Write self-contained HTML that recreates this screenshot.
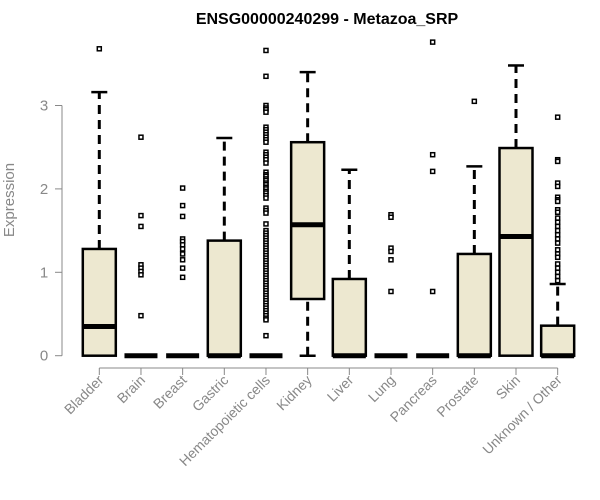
<!DOCTYPE html>
<html><head><meta charset="utf-8"><style>body{margin:0;background:#fff}svg{display:block}</style></head>
<body>
<svg id="chart" width="600" height="500" xmlns="http://www.w3.org/2000/svg" font-family="Liberation Sans, Arial, sans-serif">
<text x="327" y="24" text-anchor="middle" font-weight="bold" font-size="16">ENSG00000240299 - Metazoa_SRP</text>
<text transform="translate(14,200) rotate(-90)" text-anchor="middle" font-size="15" fill="#888">Expression</text>
<g id="axes"></g>
<g id="boxes"></g>
</svg>
<script>
const categories=["Bladder","Brain","Breast","Gastric","Hematopoietic cells","Kidney","Liver","Lung","Pancreas","Prostate","Skin","Unknown / Other"];
const q1=[0,0,0,0,0,0.68,0,0,0,0,0,0];
const medians=[0.35,0,0,0,0,1.57,0,0,0,0,1.43,0];
const q3=[1.28,0,0,1.38,0,2.56,0.92,0,0,1.22,2.49,0.36];
const whiskLo=[0,0,0,0,0,0,0,0,0,0,0,0];
const whiskHi=[3.16,0,0,2.61,0,3.40,2.23,0,0,2.27,3.48,0.86];
const outliers=[
[3.68],
[2.62,1.68,1.55,1.09,1.05,1.01,0.97,0.48],
[2.01,1.80,1.67,1.40,1.37,1.33,1.28,1.22,1.15,1.05,0.94],
[],
[3.66,3.35,3.0,2.97,2.95,2.92,2.74,2.71,2.68,2.65,2.62,2.59,2.56,2.44,2.41,2.38,2.35,2.31,2.2,2.17,2.15,2.12,2.1,2.07,2.05,2.02,2.0,1.97,1.95,1.92,1.89,1.77,1.74,1.71,1.58,1.5,1.47,1.44,1.41,1.38,1.35,1.32,1.29,1.26,1.23,1.2,1.17,1.14,1.11,1.08,1.05,1.02,0.99,0.96,0.93,0.9,0.87,0.84,0.81,0.78,0.75,0.72,0.69,0.66,0.63,0.6,0.57,0.54,0.51,0.48,0.45,0.43,0.24],
[],
[],
[1.69,1.66,1.29,1.25,1.15,0.77],
[3.76,2.41,2.21,0.77],
[3.05],
[],
[2.86,2.35,2.33,2.07,2.03,1.9,1.87,1.85,1.75,1.72,1.65,1.6,1.55,1.5,1.45,1.4,1.35,1.27,1.22,1.18,1.1,1.05,1.0,0.95,0.9]
];
const yTicks=[0,1,2,3];
const NS="http://www.w3.org/2000/svg";
const y=v=>355.7-v*83.4;
const x=i=>99.3+i*41.67;
function mk(tag,attrs,parent){const e=document.createElementNS(NS,tag);for(const k in attrs)e.setAttribute(k,attrs[k]);parent.appendChild(e);return e;}
const ax=document.getElementById('axes'),bx=document.getElementById('boxes');
let l=mk('line',{x1:62,x2:62,y1:y(0),y2:y(3),stroke:'#888','stroke-width':1},ax);


yTicks.forEach(t=>{
 let tk=mk('line',{x1:55,x2:62,y1:y(t),y2:y(t),stroke:'#888'},ax);
 
 
 let tx=mk('text',{x:44,y:y(t)+5,'text-anchor':'middle','font-size':15,fill:'#888'},ax);
 tx.textContent=t;
 
 
});
l=mk('line',{x1:x(0),x2:x(categories.length-1),y1:368,y2:368,stroke:'#888'},ax);


categories.forEach((c,i)=>{
 let tk=mk('line',{x1:x(i),x2:x(i),y1:368,y2:375,stroke:'#888'},ax);
 
 
 let tx=mk('text',{transform:`translate(${x(i)+5},381) rotate(-45)`,'text-anchor':'end','font-size':14,fill:'#888'},ax);
 tx.textContent=c;
 
 
 const g=mk('g',{},bx);
 
 
 const cx=x(i),hw=16.5;
 if(whiskHi[i]>q3[i]){
  mk('line',{x1:cx,x2:cx,y1:y(q3[i]),y2:y(whiskHi[i]),stroke:'#000','stroke-width':3,'stroke-dasharray':'9,6'},g);
  mk('line',{x1:cx-8,x2:cx+8,y1:y(whiskHi[i]),y2:y(whiskHi[i]),stroke:'#000','stroke-width':2.5},g);
 }
 if(q1[i]>whiskLo[i]){
  mk('line',{x1:cx,x2:cx,y1:y(whiskLo[i]),y2:y(q1[i]),stroke:'#000','stroke-width':3,'stroke-dasharray':'9,6'},g);
  mk('line',{x1:cx-8,x2:cx+8,y1:y(whiskLo[i]),y2:y(whiskLo[i]),stroke:'#000','stroke-width':2.5},g);
 }
 if(q3[i]>q1[i]) mk('rect',{x:cx-hw,y:y(q3[i]),width:hw*2,height:y(q1[i])-y(q3[i]),fill:'#ede8d0',stroke:'#000','stroke-width':2.5},g);
 mk('line',{x1:cx-hw,x2:cx+hw,y1:y(medians[i]),y2:y(medians[i]),stroke:'#000','stroke-width':5},g);
 outliers[i].forEach(v=>{
  const p=mk('rect',{x:cx-2,y:y(v)-2,width:4,height:4,fill:'#fff',stroke:'#000','stroke-width':1.5},g);
  
  
 });
});
</script>
</body></html>
